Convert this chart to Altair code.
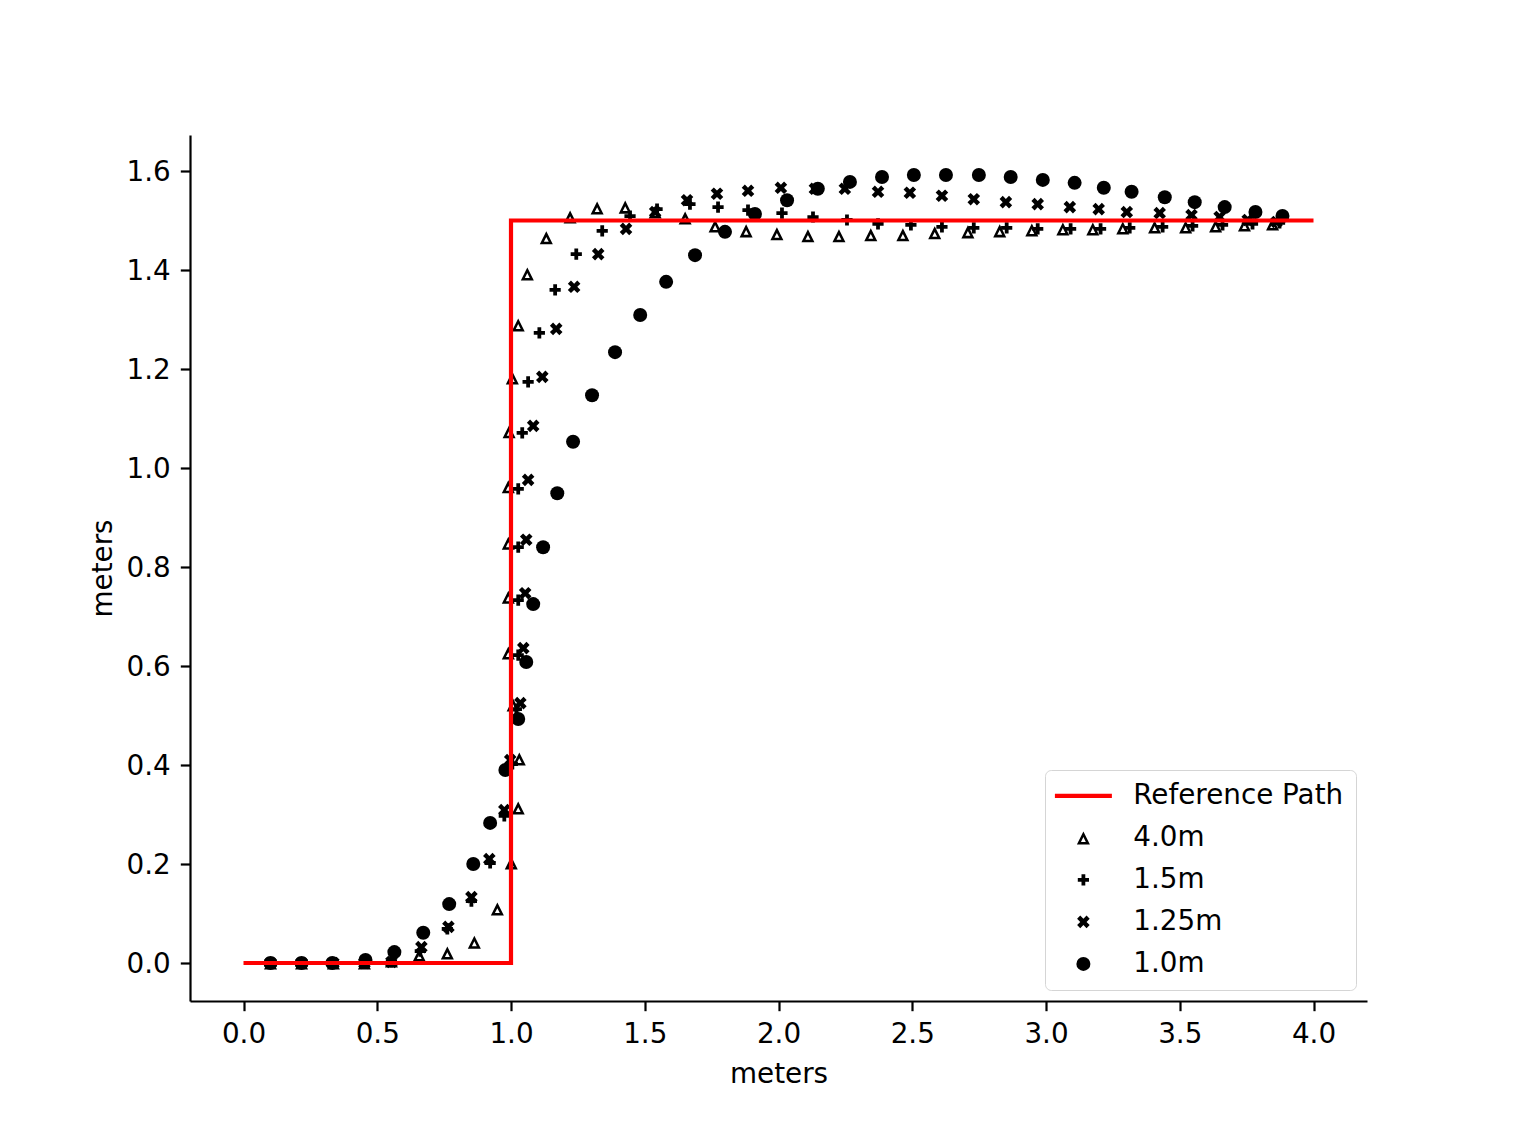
import altair as alt
import pandas as pd

# ---------------- data ----------------
series_names = ["4.0m", "1.5m", "1.25m", "1.0m"]

x_40 = [0.101, 0.217, 0.336, 0.452, 0.553, 0.657, 0.762, 0.863, 0.949, 1.001,
        1.027, 1.031, 1.008, 0.990, 0.990, 0.990, 0.990, 0.993, 1.005, 1.027,
        1.061, 1.132, 1.221, 1.322, 1.427, 1.539, 1.651, 1.763, 1.879, 1.994,
        2.110, 2.226, 2.345, 2.465, 2.584, 2.708, 2.827, 2.947, 3.063, 3.175,
        3.287, 3.406, 3.522, 3.634, 3.742, 3.847]
y_40 = [0.0, 0.0, 0.0, 0.0, 0.004, 0.016, 0.020, 0.042, 0.109, 0.202,
        0.313, 0.412, 0.521, 0.626, 0.739, 0.848, 0.962, 1.073, 1.182, 1.289,
        1.392, 1.465, 1.507, 1.525, 1.527, 1.517, 1.505, 1.489, 1.479, 1.473,
        1.469, 1.469, 1.471, 1.471, 1.475, 1.477, 1.479, 1.481, 1.483, 1.483,
        1.485, 1.487, 1.487, 1.489, 1.491, 1.493]

x_15 = [0.101, 0.217, 0.336, 0.452, 0.553, 0.661, 0.762, 0.852, 0.922, 0.975,
        1.005, 1.020, 1.027, 1.027, 1.027, 1.027, 1.042, 1.064, 1.106, 1.165,
        1.244, 1.341, 1.445, 1.546, 1.669, 1.774, 1.886, 2.013, 2.129, 2.256,
        2.372, 2.495, 2.611, 2.730, 2.853, 2.969, 3.092, 3.204, 3.313, 3.436,
        3.548, 3.660, 3.772, 3.873]
y_15 = [0.0, 0.0, 0.0, 0.0, 0.002, 0.024, 0.069, 0.125, 0.202, 0.297,
        0.402, 0.513, 0.622, 0.733, 0.840, 0.958, 1.071, 1.174, 1.273, 1.360,
        1.432, 1.479, 1.509, 1.523, 1.533, 1.527, 1.521, 1.515, 1.507, 1.501,
        1.493, 1.491, 1.487, 1.485, 1.485, 1.483, 1.483, 1.483, 1.485, 1.487,
        1.489, 1.491, 1.493, 1.495]

x_125 = [0.101, 0.217, 0.336, 0.452, 0.553, 0.665, 0.766, 0.852, 0.919, 0.975,
         0.997, 1.035, 1.046, 1.053, 1.057, 1.064, 1.083, 1.117, 1.169, 1.236,
         1.326, 1.430, 1.539, 1.658, 1.770, 1.886, 2.009, 2.136, 2.248, 2.372,
         2.491, 2.611, 2.730, 2.850, 2.969, 3.089, 3.197, 3.302, 3.425, 3.544,
         3.649, 3.754, 3.862]
y_125 = [0.0, 0.0, 0.0, 0.0, 0.002, 0.032, 0.073, 0.133, 0.210, 0.309,
         0.410, 0.525, 0.636, 0.747, 0.855, 0.976, 1.085, 1.184, 1.281, 1.366,
         1.432, 1.483, 1.517, 1.541, 1.554, 1.560, 1.566, 1.564, 1.564, 1.558,
         1.556, 1.550, 1.543, 1.537, 1.533, 1.527, 1.523, 1.517, 1.515, 1.511,
         1.507, 1.501, 1.497]

x_10 = [0.101, 0.217, 0.332, 0.456, 0.564, 0.672, 0.769, 0.859, 0.922, 0.979,
        1.027, 1.057, 1.083, 1.120, 1.173, 1.232, 1.303, 1.389, 1.483, 1.580,
        1.688, 1.800, 1.912, 2.032, 2.147, 2.267, 2.387, 2.506, 2.626, 2.749,
        2.868, 2.988, 3.107, 3.216, 3.320, 3.444, 3.556, 3.668, 3.783, 3.884]
y_10 = [0.0, 0.0, 0.0, 0.006, 0.022, 0.061, 0.119, 0.200, 0.283, 0.390,
        0.493, 0.608, 0.725, 0.840, 0.949, 1.053, 1.147, 1.234, 1.309, 1.376,
        1.430, 1.477, 1.513, 1.541, 1.564, 1.578, 1.588, 1.592, 1.592, 1.592,
        1.588, 1.582, 1.576, 1.566, 1.558, 1.547, 1.537, 1.527, 1.517, 1.509]

path_name = "Reference Path"
path_x = [0.0, 1.0, 1.0, 4.0]
path_y = [0.0, 0.0, 1.5, 1.5]

x_ticks = [0.0, 0.5, 1.0, 1.5, 2.0, 2.5, 3.0, 3.5, 4.0]
y_ticks = [0.0, 0.2, 0.4, 0.6, 0.8, 1.0, 1.2, 1.4, 1.6]

# ---------------- tables ----------------
rows = []
for name, xs, ys in zip(series_names, [x_40, x_15, x_125, x_10], [y_40, y_15, y_125, y_10]):
    for xv, yv in zip(xs, ys):
        rows.append({"x": xv, "y": yv, "series": name})
pts = pd.DataFrame(rows)
path = pd.DataFrame({"x": path_x, "y": path_y, "order": list(range(len(path_x)))})

# ---------------- styling ----------------
FONT = "DejaVu Sans"
FS = 27.8

LINE_SYM = "M-4.07,-0.3L4.07,-0.3L4.07,0.3L-4.07,0.3Z"
TRI_SYM = "M0,-0.93L0.93,0.93L-0.93,0.93Z M0,-0.126L-0.348,0.570L0.348,0.570Z"
PLUS_SYM = ("M-0.27,-0.8L0.27,-0.8L0.27,-0.27L0.8,-0.27L0.8,0.27L0.27,0.27"
            "L0.27,0.8L-0.27,0.8L-0.27,0.27L-0.8,0.27L-0.8,-0.27L-0.27,-0.27Z")
X_SYM = ("M0.45,-0.9L0.9,-0.45L0.45,0L0.9,0.45L0.45,0.9L0,0.45"
         "L-0.45,0.9L-0.9,0.45L-0.45,0L-0.9,-0.45L-0.45,-0.9L0,-0.45Z")

legend_domain = [path_name] + series_names

xscale = alt.Scale(domain=[-0.2, 4.2], nice=False, zero=False)
yscale = alt.Scale(domain=[-0.0768, 1.6727], nice=False, zero=False)
xaxis = alt.Axis(values=x_ticks, format=".1f", title="meters", labelFlush=False,
                 labelOverlap=False, titlePadding=12)
yaxis = alt.Axis(values=y_ticks, format=".1f", title="meters", labelOverlap=False,
                 labelOffset=2, titlePadding=9)

legend = alt.Legend(
    title=None, orient="none", legendX=855, legendY=635, direction="vertical",
    labelFont=FONT, labelFontSize=FS, labelColor="black", labelLimit=500,
    symbolSize=196, symbolStrokeWidth=0, padding=12, rowPadding=13,
    symbolOffset=12.5, labelOffset=36,
    strokeColor="#d5d5d5", fillColor="white", cornerRadius=6,
)

points = alt.Chart(pts).mark_point(filled=True, size=196, opacity=1).encode(
    x=alt.X("x:Q", scale=xscale, axis=xaxis),
    y=alt.Y("y:Q", scale=yscale, axis=yaxis),
    color=alt.Color("series:N", sort=legend_domain,
                    scale=alt.Scale(domain=legend_domain,
                                    range=["#ff0000", "#000000", "#000000", "#000000", "#000000"]),
                    legend=legend),
    shape=alt.Shape("series:N", sort=legend_domain,
                    scale=alt.Scale(domain=legend_domain,
                                    range=[LINE_SYM, TRI_SYM, PLUS_SYM, X_SYM, "circle"]),
                    legend=legend),
)

ref_line = alt.Chart(path).mark_line(color="#ff0000", strokeWidth=4.2).encode(
    x=alt.X("x:Q", scale=xscale, axis=xaxis),
    y=alt.Y("y:Q", scale=yscale, axis=yaxis),
    order="order:Q",
)

chart = alt.layer(points, ref_line).properties(
    width=1177, height=866,
    autosize=alt.AutoSizeParams(type="none"),
    padding={"left": 182, "top": 127, "right": 100, "bottom": 100},
).configure_view(stroke=None).configure_axis(
    labelFont=FONT, labelFontSize=FS, labelColor="black",
    titleFont=FONT, titleFontSize=FS, titleFontWeight="normal", titleColor="black",
    domainColor="black", domainWidth=2.2, tickColor="black", tickWidth=2.2,
    tickSize=9.7, labelPadding=10, grid=False,
)

chart.save("out.html", embed_options={"renderer": "svg", "actions": False})
